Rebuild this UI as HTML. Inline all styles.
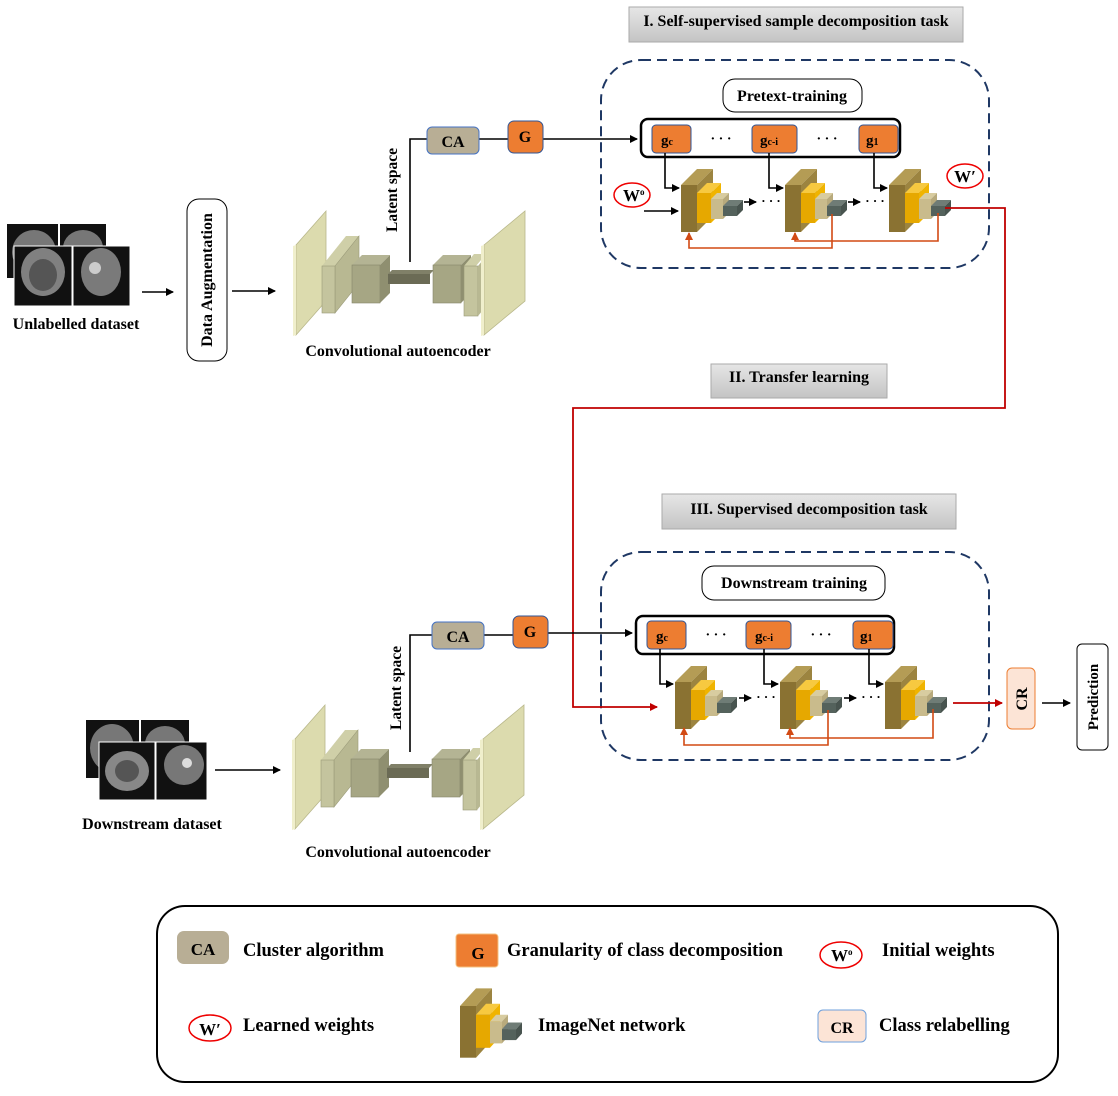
<!DOCTYPE html>
<html><head><meta charset="utf-8"><style>
html,body{margin:0;padding:0;background:#fff}
svg{display:block}
text{font-family:"Liberation Serif",serif;font-weight:bold;fill:#000}
</style></head><body>
<svg width="1118" height="1096" viewBox="0 0 1118 1096" xmlns="http://www.w3.org/2000/svg">
<defs>
<marker id="ab" markerWidth="8" markerHeight="8" refX="7" refY="4" orient="auto" markerUnits="userSpaceOnUse"><path d="M0,0 L8,4 L0,8 z" fill="#000"/></marker>
<marker id="ar" markerWidth="8" markerHeight="8" refX="7" refY="4" orient="auto" markerUnits="userSpaceOnUse"><path d="M0,0 L8,4 L0,8 z" fill="#c00000"/></marker>
<marker id="ao" markerWidth="8" markerHeight="8" refX="7" refY="4" orient="auto" markerUnits="userSpaceOnUse"><path d="M0,0 L8,4 L0,8 z" fill="#d24a14"/></marker>
<linearGradient id="tg" x1="0" y1="0" x2="0" y2="1"><stop offset="0" stop-color="#e6e6e6"/><stop offset="1" stop-color="#c4c4c4"/></linearGradient>
<g id="net">
 <polygon points="0,0 16,-16 32,-16 16,0" fill="#b49c55"/>
 <polygon points="16,0 32,-16 32,31 16,47" fill="#9c8440"/>
 <rect x="0" y="0" width="16" height="47" fill="#8a7232"/>
 <polygon points="16,8 26,-2 40,-2 30,8" fill="#f7c940"/>
 <polygon points="30,8 40,-2 40,28 30,38" fill="#f0b400"/>
 <rect x="16" y="8" width="14" height="30" fill="#e6a800"/>
 <polygon points="30,14 36,8 48,8 42,14" fill="#d8cca0"/>
 <rect x="30" y="14" width="12" height="20" fill="#c9bb8c"/>
 <polygon points="42,14 48,8 48,28 42,34" fill="#b8aa7c"/>
 <polygon points="42,21 48,15 62,15 56,21" fill="#6f7c76"/>
 <rect x="42" y="21" width="14" height="10" fill="#54625c"/>
 <polygon points="56,21 62,15 62,25 56,31" fill="#48544f"/>
</g>
<g id="ae">
 <polygon points="0,34 30,0 30,90 0,124" fill="#dcdbae" stroke="#b8b78a" stroke-width="0.8"/>
 <polygon points="-3,35 0,34 0,124 -3,125" fill="#f0efcc"/>
 <polygon points="26,55 50,25 63,25 39,55" fill="#cfcfa8"/>
 <polygon points="39,55 63,25 63,72 39,102" fill="#b8b892" stroke="#9a9a78" stroke-width="0.6"/>
 <rect x="26" y="55" width="13" height="47" fill="#c4c49e" stroke="#9a9a78" stroke-width="0.6"/>
 <polygon points="56,54 66,44 94,44 84,54" fill="#b4b494"/>
 <rect x="56" y="54" width="28" height="38" fill="#a6a684" stroke="#86866a" stroke-width="0.6"/>
 <polygon points="84,54 94,44 94,82 84,92" fill="#8f8f70"/>
 <rect x="92" y="63" width="42" height="10" fill="#6b6b55"/>
 <polygon points="92,63 96,59 138,59 134,63" fill="#808068"/>
 <polygon points="137,54 147,44 175,44 165,54" fill="#b4b494"/>
 <rect x="137" y="54" width="28" height="38" fill="#a6a684" stroke="#86866a" stroke-width="0.6"/>
 <polygon points="165,54 175,44 175,82 165,92" fill="#8f8f70"/>
 <polygon points="168,55 178,43 190,43 180,55" fill="#cfcfa8"/>
 <rect x="168" y="55" width="14" height="50" fill="#c4c49e" stroke="#9a9a78" stroke-width="0.6"/>
 <polygon points="182,55 192,43 192,93 182,105" fill="#b8b892"/>
 <polygon points="188,34 229,0 229,90 188,124" fill="#dcdbae" stroke="#b8b78a" stroke-width="0.8"/>
 <polygon points="185,35 188,34 188,124 185,125" fill="#f0efcc"/>
</g>
</defs>

<!-- Titles -->
<rect x="629" y="7" width="334" height="35" fill="url(#tg)" stroke="#aaa"/>
<text x="796" y="26" font-size="16" text-anchor="middle">I. Self-supervised sample decomposition task</text>
<rect x="711" y="364" width="176" height="34" fill="url(#tg)" stroke="#aaa"/>
<text x="799" y="382" font-size="16" text-anchor="middle">II. Transfer learning</text>
<rect x="662" y="494" width="294" height="35" fill="url(#tg)" stroke="#aaa"/>
<text x="809" y="514" font-size="16" text-anchor="middle">III. Supervised decomposition task</text>

<!-- Dashed boxes -->
<rect x="601" y="60" width="388" height="208" rx="40" fill="none" stroke="#1f3864" stroke-width="2" stroke-dasharray="10,6"/>
<rect x="601" y="552" width="388" height="208" rx="40" fill="none" stroke="#1f3864" stroke-width="2" stroke-dasharray="10,6"/>

<rect x="723" y="79" width="139" height="33" rx="12" fill="#fff" stroke="#000"/>
<text x="792" y="101" font-size="16" text-anchor="middle">Pretext-training</text>
<rect x="702" y="566" width="183" height="34" rx="12" fill="#fff" stroke="#000"/>
<text x="794" y="588" font-size="16" text-anchor="middle">Downstream training</text>

<!-- top g container -->
<rect x="641" y="119" width="259" height="38" rx="7" fill="#fff" stroke="#000" stroke-width="2.5"/>
<rect x="652" y="125" width="39" height="28" rx="4" fill="#ed7d31" stroke="#2f5597"/>
<rect x="752" y="125" width="45" height="28" rx="4" fill="#ed7d31" stroke="#2f5597"/>
<rect x="859" y="125" width="39" height="28" rx="4" fill="#ed7d31" stroke="#2f5597"/>
<text x="661" y="145" font-size="15">g<tspan font-size="10">c</tspan></text>
<text x="760" y="145" font-size="15">g<tspan font-size="10">c-i</tspan></text>
<text x="866" y="145" font-size="15">g<tspan font-size="10">1</tspan></text>
<text x="721" y="143" font-size="14" text-anchor="middle">· · ·</text>
<text x="827" y="143" font-size="14" text-anchor="middle">· · ·</text>

<!-- bottom g container -->
<rect x="636" y="616" width="258" height="38" rx="7" fill="#fff" stroke="#000" stroke-width="2.5"/>
<rect x="647" y="621" width="39" height="28" rx="4" fill="#ed7d31" stroke="#2f5597"/>
<rect x="746" y="621" width="45" height="28" rx="4" fill="#ed7d31" stroke="#2f5597"/>
<rect x="853" y="621" width="40" height="28" rx="4" fill="#ed7d31" stroke="#2f5597"/>
<text x="656" y="641" font-size="15">g<tspan font-size="10">c</tspan></text>
<text x="755" y="641" font-size="15">g<tspan font-size="10">c-i</tspan></text>
<text x="860" y="641" font-size="15">g<tspan font-size="10">1</tspan></text>
<text x="716" y="639" font-size="14" text-anchor="middle">· · ·</text>
<text x="821" y="639" font-size="14" text-anchor="middle">· · ·</text>

<!-- networks top -->
<use href="#net" x="681" y="185"/>
<use href="#net" x="785" y="185"/>
<use href="#net" x="889" y="185"/>
<!-- networks bottom -->
<use href="#net" x="675" y="682"/>
<use href="#net" x="780" y="682"/>
<use href="#net" x="885" y="682"/>

<g stroke="#000" stroke-width="1.6" fill="none">
 <path d="M665,153 V188 H679" marker-end="url(#ab)"/>
 <path d="M769,153 V188 H783" marker-end="url(#ab)"/>
 <path d="M874,153 V188 H887" marker-end="url(#ab)"/>
 <path d="M644,211 H678" marker-end="url(#ab)"/>
 <path d="M744,202 H756" marker-end="url(#ab)"/>
 <path d="M848,202 H860" marker-end="url(#ab)"/>
 <path d="M660,649 V684 H673" marker-end="url(#ab)"/>
 <path d="M764,649 V684 H778" marker-end="url(#ab)"/>
 <path d="M869,649 V684 H883" marker-end="url(#ab)"/>
 <path d="M739,698 H751" marker-end="url(#ab)"/>
 <path d="M844,698 H856" marker-end="url(#ab)"/>
 <path d="M1042,703 H1070" marker-end="url(#ab)"/>
</g>
<text x="771" y="205" font-size="13" text-anchor="middle">· · ·</text>
<text x="875" y="205" font-size="13" text-anchor="middle">· · ·</text>
<text x="766" y="701" font-size="13" text-anchor="middle">· · ·</text>
<text x="871" y="701" font-size="13" text-anchor="middle">· · ·</text>

<!-- orange feedback -->
<g stroke="#d24a14" stroke-width="1.6" fill="none">
 <path d="M832,214 V248 H689 V233" marker-end="url(#ao)"/>
 <path d="M938,213 V241 H795 V233" marker-end="url(#ao)"/>
 <path d="M828,710 V745 H684 V728" marker-end="url(#ao)"/>
 <path d="M933,709 V738 H790 V728" marker-end="url(#ao)"/>
</g>

<!-- red transfer -->
<g stroke="#c00000" stroke-width="1.8" fill="none">
 <path d="M945,208 H1005 V408 H573 V707 H657" marker-end="url(#ar)"/>
 <path d="M953,703 H1002" marker-end="url(#ar)"/>
</g>

<!-- W ellipses -->
<ellipse cx="632" cy="195" rx="18" ry="12" fill="#fff" stroke="#e00" stroke-width="1.5"/>
<text x="623" y="201" font-size="17">W<tspan font-size="9" dy="-6">o</tspan></text>
<ellipse cx="965" cy="176" rx="18" ry="12" fill="#fff" stroke="#e00" stroke-width="1.5"/>
<text x="965" y="182" font-size="17" text-anchor="middle">W′</text>

<!-- CR & prediction -->
<rect x="1007" y="668" width="28" height="61" rx="5" fill="#fce4d6" stroke="#ed7d31"/>
<text transform="translate(1027,699) rotate(-90)" font-size="16" text-anchor="middle">CR</text>
<rect x="1077" y="644" width="31" height="106" rx="5" fill="#fff" stroke="#000"/>
<text transform="translate(1098,697) rotate(-90)" font-size="15" text-anchor="middle">Prediction</text>

<!-- top left pipeline -->
<g>
 <rect x="7" y="224" width="51" height="54" fill="#111"/><ellipse cx="34" cy="252" rx="22" ry="22" fill="#777"/>
 <rect x="60" y="224" width="46" height="40" fill="#111"/><ellipse cx="83" cy="248" rx="20" ry="18" fill="#777"/>
 <rect x="14" y="246" width="58" height="60" fill="#111" stroke="#fff"/><ellipse cx="43" cy="272" rx="22" ry="24" fill="#808080"/><ellipse cx="43" cy="275" rx="14" ry="16" fill="#555"/>
 <rect x="73" y="246" width="57" height="60" fill="#111" stroke="#fff"/><ellipse cx="101" cy="272" rx="20" ry="24" fill="#7a7a7a"/><ellipse cx="95" cy="268" rx="6" ry="6" fill="#ccc"/>
</g>
<text x="76" y="329" font-size="16" text-anchor="middle">Unlabelled dataset</text>
<path d="M142,292 H173" stroke="#000" stroke-width="1.6" marker-end="url(#ab)"/>
<rect x="187" y="199" width="40" height="162" rx="12" fill="#fff" stroke="#000"/>
<text transform="translate(212,280) rotate(-90)" font-size="16" text-anchor="middle">Data Augmentation</text>
<path d="M232,291 H275" stroke="#000" stroke-width="1.6" marker-end="url(#ab)"/>
<use href="#ae" x="296" y="211"/>
<text x="398" y="356" font-size="16" text-anchor="middle">Convolutional autoencoder</text>
<path d="M410,262 V139 H427 M479,139 H508" stroke="#000" stroke-width="1.6" fill="none"/>
<path d="M543,139 H637" stroke="#000" stroke-width="1.6" marker-end="url(#ab)"/>
<text transform="translate(397,190) rotate(-90)" font-size="15.5" text-anchor="middle">Latent space</text>
<rect x="427" y="127" width="52" height="27" rx="5" fill="#b8ae95" stroke="#4472c4"/>
<text x="453" y="147" font-size="16" text-anchor="middle">CA</text>
<rect x="508" y="121" width="35" height="32" rx="6" fill="#ed7d31" stroke="#2f5597"/>
<text x="525" y="142" font-size="16" text-anchor="middle">G</text>

<!-- bottom left pipeline -->
<g>
 <rect x="86" y="720" width="53" height="58" fill="#111"/><ellipse cx="112" cy="748" rx="22" ry="24" fill="#777"/>
 <rect x="141" y="720" width="48" height="40" fill="#111"/><ellipse cx="165" cy="744" rx="20" ry="18" fill="#777"/>
 <rect x="99" y="742" width="56" height="58" fill="#111" stroke="#fff"/><ellipse cx="127" cy="771" rx="22" ry="20" fill="#888"/><ellipse cx="127" cy="771" rx="12" ry="11" fill="#555"/>
 <rect x="156" y="742" width="51" height="58" fill="#111" stroke="#fff"/><ellipse cx="184" cy="765" rx="20" ry="20" fill="#777"/><ellipse cx="187" cy="763" rx="5" ry="5" fill="#ddd"/>
</g>
<text x="152" y="829" font-size="16" text-anchor="middle">Downstream dataset</text>
<path d="M215,770 H280" stroke="#000" stroke-width="1.6" marker-end="url(#ab)"/>
<use href="#ae" x="295" y="705"/>
<text x="398" y="857" font-size="16" text-anchor="middle">Convolutional autoencoder</text>
<path d="M410,752 V635 H432 M484,635 H513" stroke="#000" stroke-width="1.6" fill="none"/>
<path d="M548,633 H632" stroke="#000" stroke-width="1.6" marker-end="url(#ab)"/>
<text transform="translate(401,688) rotate(-90)" font-size="15.5" text-anchor="middle">Latent space</text>
<rect x="432" y="622" width="52" height="27" rx="5" fill="#b8ae95" stroke="#4472c4"/>
<text x="458" y="642" font-size="16" text-anchor="middle">CA</text>
<rect x="513" y="616" width="35" height="32" rx="6" fill="#ed7d31" stroke="#2f5597"/>
<text x="530" y="637" font-size="16" text-anchor="middle">G</text>

<!-- legend -->
<rect x="157" y="906" width="901" height="176" rx="28" fill="#fff" stroke="#000" stroke-width="2"/>
<rect x="177" y="931" width="52" height="33" rx="7" fill="#b8ae95"/>
<text x="203" y="955" font-size="17" text-anchor="middle">CA</text>
<text x="243" y="956" font-size="18.5">Cluster algorithm</text>
<rect x="456" y="934" width="42" height="33" rx="3" fill="#ed7d31" stroke="#f4c080"/>
<text x="478" y="959" font-size="17" text-anchor="middle">G</text>
<text x="507" y="956" font-size="18.5">Granularity of class decomposition</text>
<ellipse cx="841" cy="955" rx="21" ry="13" fill="#fff" stroke="#e00" stroke-width="1.5"/>
<text x="831" y="961" font-size="17">W<tspan font-size="9" dy="-6">o</tspan></text>
<text x="882" y="956" font-size="18.5">Initial weights</text>
<ellipse cx="210" cy="1028" rx="21" ry="13" fill="#fff" stroke="#e00" stroke-width="1.5"/>
<text x="210" y="1035" font-size="17" text-anchor="middle">W′</text>
<text x="243" y="1031" font-size="18.5">Learned weights</text>
<use href="#net" transform="translate(460,1006) scale(1,1.1)"/>
<text x="538" y="1031" font-size="18.5">ImageNet network</text>
<rect x="818" y="1010" width="48" height="32" rx="5" fill="#fce4d6" stroke="#6fa0dc"/>
<text x="842" y="1033" font-size="16" text-anchor="middle">CR</text>
<text x="879" y="1031" font-size="18.5">Class relabelling</text>
</svg>
</body></html>
